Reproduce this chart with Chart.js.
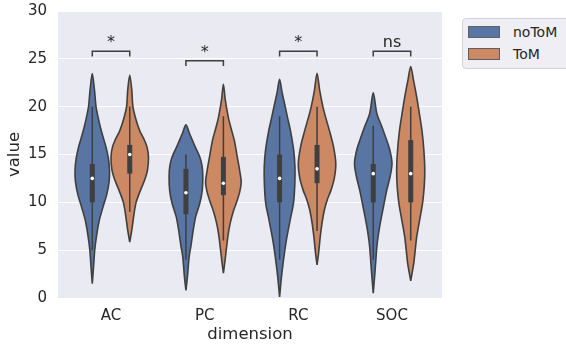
<!DOCTYPE html>
<html>
<head>
<meta charset="utf-8">
<script src="https://cdn.jsdelivr.net/npm/chart.js@4.4.1/dist/chart.umd.min.js"></script>
<style>
    body { margin: 0; background: #ffffff; }
    #wrap { position: relative; width: 566px; height: 345px; overflow: hidden; }
    #violinChart { position: absolute; left: 0; top: 0; }
    #legend {
        position: absolute; left: 462px; top: 18px; width: 112px; height: 49px;
        background: #eeeef4; border: 1px solid #d2d2d8; border-radius: 4px;
        font-family: "DejaVu Sans", sans-serif; font-size: 14px; color: #262626;
    }
    .patch { position: absolute; left: 5px; width: 30px; height: 10px; border: 1px solid #5f5f5f; }
    .lbl { position: absolute; left: 50px; line-height: 16px; white-space: nowrap; }
</style>
</head>
<body>
<div id="wrap">
    <canvas id="violinChart" width="566" height="345"></canvas>
    <div id="legend"></div>
</div>
<script>
const categories = ["AC", "PC", "RC", "SOC"];
const hues = ["noToM", "ToM"];
const hueColors = ["#5875a4", "#cc8963"];
const yTicks = [0, 5, 10, 15, 20, 25, 30];

// violin outlines, [value, relative density], bottom tip to top tip
const acNoTom = [[1.5, 0], [3.6, 0.08], [5.0, 0.13], [6.4, 0.22], [8.0, 0.36], [9.5, 0.57], [10.8, 0.77], [12.2, 0.9], [13.4, 0.92], [14.6, 0.86], [15.8, 0.73], [16.8, 0.58], [17.8, 0.44], [18.8, 0.32], [20.0, 0.2], [21.7, 0.12], [23.45, 0]];
const acTom = [[5.85, 0], [7.1, 0.11], [8.8, 0.23], [10.0, 0.34], [11.2, 0.56], [12.3, 0.79], [13.4, 0.95], [14.75, 1.0], [15.8, 0.92], [16.6, 0.76], [17.5, 0.53], [18.6, 0.34], [20.0, 0.17], [21.7, 0.11], [23.3, 0]];
const pcNoTom = [[0.8, 0], [2.2, 0.08], [4.3, 0.17], [5.35, 0.26], [7.1, 0.39], [8.5, 0.52], [9.9, 0.74], [11.25, 0.87], [12.65, 0.9], [13.8, 0.86], [14.75, 0.74], [15.7, 0.52], [16.5, 0.34], [17.2, 0.19], [18.1, 0]];
const pcTom = [[2.6, 0], [3.95, 0.09], [5.35, 0.17], [6.6, 0.25], [7.8, 0.36], [9.0, 0.52], [10.0, 0.7], [11.1, 0.87], [12.1, 0.95], [13.3, 0.87], [14.75, 0.74], [16.5, 0.58], [17.8, 0.4], [18.9, 0.26], [20.7, 0.1], [22.35, 0]];
const rcNoTom = [[0.1, 0], [2.2, 0.1], [4.3, 0.23], [5.8, 0.34], [7.1, 0.46], [8.5, 0.6], [9.9, 0.74], [11.8, 0.81], [13.7, 0.82], [15.45, 0.75], [17.5, 0.58], [18.8, 0.43], [20.0, 0.3], [21.4, 0.14], [22.85, 0]];
const rcTom = [[3.45, 0], [4.65, 0.08], [6.4, 0.17], [7.9, 0.27], [9.2, 0.39], [10.3, 0.55], [11.25, 0.74], [12.5, 0.92], [14.05, 1.0], [15.8, 0.88], [17.5, 0.66], [18.8, 0.47], [20.0, 0.31], [21.7, 0.14], [23.5, 0]];
const socNoTom = [[0.5, 0], [2.9, 0.1], [4.3, 0.15], [5.7, 0.21], [7.1, 0.31], [8.5, 0.44], [9.9, 0.58], [11.25, 0.72], [12.7, 0.9], [14.05, 1.0], [15.5, 0.88], [16.8, 0.66], [17.9, 0.46], [19.3, 0.19], [21.45, 0]];
const socTom = [[1.8, 0], [3.6, 0.16], [5.0, 0.24], [6.4, 0.32], [8.2, 0.48], [9.9, 0.63], [11.6, 0.72], [13.35, 0.75], [15.5, 0.7], [17.5, 0.6], [19.3, 0.46], [21.0, 0.32], [22.75, 0.15], [24.2, 0]];

const noTomShapes = [acNoTom, pcNoTom, rcNoTom, socNoTom];
const tomShapes = [acTom, pcTom, rcTom, socTom];

const noTomMedian = [12.5, 11, 12.5, 13];
const noTomQ1 = [10, 8.75, 10, 10];
const noTomQ3 = [14, 13.5, 15, 14];
const noTomLow = [5, 4, 4, 4];
const noTomHigh = [20, 15, 19, 18];

const tomMedian = [15, 12, 13.5, 13];
const tomQ1 = [13, 10.75, 12, 10];
const tomQ3 = [16, 14.75, 16, 16.5];
const tomLow = [9, 6, 7, 6];
const tomHigh = [20, 19, 20, 20];

const sigLabels = ["*", "*", "*", "ns"];
const bracketLevels = [25.8, 24.8, 25.8, 25.8];

const hueOffset = 0.2;
const halfWidth = 0.2;
const edge = "#3f3f3f";
const fontFamily = "'DejaVu Sans', sans-serif";

const datasets = [];

function addViolin(shape, xc, color) {
    const right = shape.map(([v, d]) => ({ x: xc + d * halfWidth, y: v }));
    const left = shape.slice(0, -1).reverse().map(([v, d]) => ({ x: xc - d * halfWidth, y: v }));
    datasets.push({
        type: "scatter",
        data: right.concat(left),
        showLine: true,
        tension: 0.3,
        fill: "shape",
        backgroundColor: color,
        borderColor: edge,
        borderWidth: 1.6,
        pointRadius: 0,
        order: 3,
    });
}

function addBox(xc, q1, q3, low, high, med) {
    datasets.push({
        type: "scatter", data: [{ x: xc, y: low }, { x: xc, y: high }],
        showLine: true, borderColor: edge, borderWidth: 1.5, pointRadius: 0, order: 2,
    });
    datasets.push({
        type: "scatter", data: [{ x: xc, y: q1 }, { x: xc, y: q3 }],
        showLine: true, borderColor: edge, borderWidth: 5, borderCapStyle: "butt", pointRadius: 0, order: 1,
    });
    datasets.push({
        type: "scatter", data: [{ x: xc, y: med }],
        pointRadius: 1.8, pointBackgroundColor: "#ffffff", pointBorderWidth: 0, order: 0,
    });
}

categories.forEach((c, i) => {
    addViolin(noTomShapes[i], i - hueOffset, hueColors[0]);
    addViolin(tomShapes[i], i + hueOffset, hueColors[1]);
    addBox(i - hueOffset, noTomQ1[i], noTomQ3[i], noTomLow[i], noTomHigh[i], noTomMedian[i]);
    addBox(i + hueOffset, tomQ1[i], tomQ3[i], tomLow[i], tomHigh[i], tomMedian[i]);
    const top = bracketLevels[i];
    datasets.push({
        type: "scatter",
        data: [
            { x: i - hueOffset, y: top - 0.55 },
            { x: i - hueOffset, y: top },
            { x: i + hueOffset, y: top },
            { x: i + hueOffset, y: top - 0.55 },
        ],
        showLine: true, borderColor: edge, borderWidth: 1.5, pointRadius: 0, order: 0,
    });
});

const plotBackground = {
    id: "plotBackground",
    beforeDraw(chart) {
        const { ctx, chartArea: a } = chart;
        ctx.save();
        ctx.fillStyle = "#eaeaf2";
        ctx.fillRect(a.left, a.top, a.right - a.left, a.bottom - a.top);
        ctx.restore();
    },
};

const sigText = {
    id: "sigText",
    afterDatasetsDraw(chart) {
        const { ctx, scales } = chart;
        ctx.save();
        ctx.fillStyle = "#262626";
        ctx.font = "16px " + fontFamily;
        ctx.textAlign = "center";
        ctx.textBaseline = "alphabetic";
        sigLabels.forEach((s, i) => {
            const x = scales.x.getPixelForValue(i);
            const y = scales.y.getPixelForValue(bracketLevels[i]) - 4;
            ctx.fillText(s, x, y);
        });
        ctx.restore();
    },
};

new Chart(document.getElementById("violinChart"), {
    type: "scatter",
    data: { datasets },
    options: {
        responsive: false,
        animation: false,
        layout: { padding: { top: 11, right: 124, left: 0, bottom: 0 } },
        plugins: { legend: { display: false }, tooltip: { enabled: false } },
        scales: {
            x: {
                type: "linear",
                min: -0.566,
                max: 3.534,
                afterBuildTicks: (s) => { s.ticks = categories.map((c, i) => ({ value: i })); },
                afterFit: (s) => { s.height = 47; s.paddingLeft = 0; s.paddingRight = 0; },
                grid: { display: false, drawTicks: false },
                border: { display: false },
                ticks: {
                    padding: 9,
                    color: "#262626",
                    font: { family: fontFamily, size: 15 },
                    callback: (v) => categories[v],
                },
                title: {
                    display: true, text: "dimension", color: "#262626",
                    font: { family: fontFamily, size: 16.5 }, padding: { top: 0, bottom: 0 },
                },
            },
            y: {
                min: 0,
                max: 30,
                afterBuildTicks: (s) => { s.ticks = yTicks.map((v) => ({ value: v })); },
                afterFit: (s) => { s.width = 58; s.paddingTop = 0; s.paddingBottom = 0; },
                grid: { color: "#ffffff", lineWidth: 1, drawTicks: false },
                border: { display: false },
                ticks: { padding: 11, color: "#262626", font: { family: fontFamily, size: 15 } },
                title: {
                    display: true, text: "value", color: "#262626",
                    font: { family: fontFamily, size: 16.5 }, padding: { top: 5, bottom: 0 },
                },
            },
        },
    },
    plugins: [plotBackground, sigText],
});

const legendEl = document.getElementById("legend");
hues.forEach((h, i) => {
    const patch = document.createElement("div");
    patch.className = "patch";
    patch.style.top = (7 + i * 21.5) + "px";
    patch.style.background = hueColors[i];
    legendEl.appendChild(patch);
    const lbl = document.createElement("div");
    lbl.className = "lbl";
    lbl.style.top = (5 + i * 21.5) + "px";
    lbl.textContent = h;
    legendEl.appendChild(lbl);
});
</script>
</body>
</html>
